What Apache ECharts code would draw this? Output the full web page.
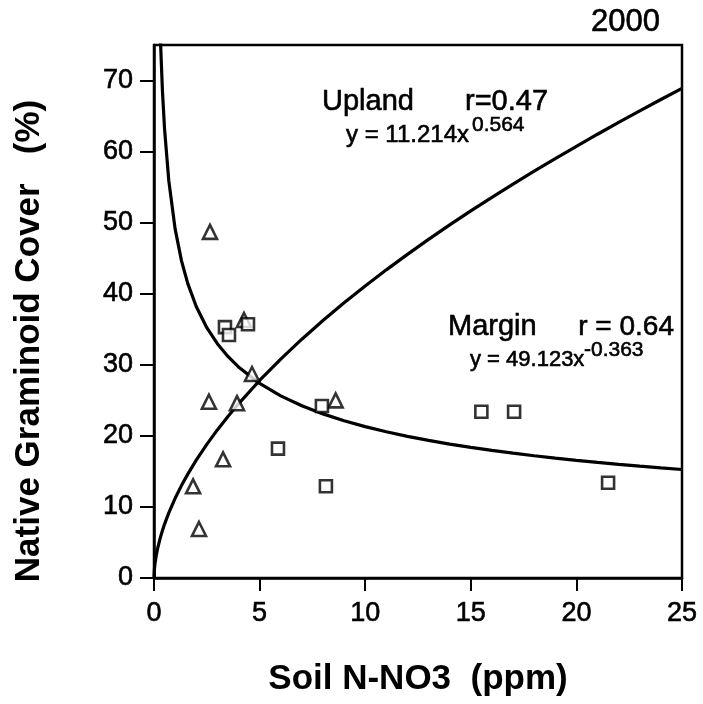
<!DOCTYPE html>
<html>
<head>
<meta charset="utf-8">
<script src="https://cdn.jsdelivr.net/npm/echarts@6/dist/echarts.min.js"></script>
<style>html,body{margin:0;padding:0;background:#fff}#c{width:703px;height:704px}</style>
</head>
<body>
<div id="c"></div>
<script>
// Upland (triangles): soil N-NO3 (ppm) and cover (%)
const uplandX = [2.65, 4.26, 4.64, 2.60, 3.93, 8.60, 3.27, 1.85, 2.13];
const uplandY = [48.7, 36.3, 28.7, 24.8, 24.6, 25.0, 16.7, 12.9, 6.9];
// Margin (squares)
const marginX = [3.36, 3.55, 4.45, 7.95, 5.87, 8.14, 15.5, 17.05, 21.5];
const marginY = [35.3, 34.2, 35.7, 24.2, 18.2, 12.9, 23.4, 23.4, 13.4];
// fitted power curves shown on the chart: y = a * x^b
const uplandFit = { a: 11.214, b: 0.564 };
const marginFit = { a: 49.123, b: -0.363 };
const curveX = [0, 0.02, 0.05, 0.1, 0.15, 0.2, 0.3, 0.4, 0.5, 0.7, 1, 1.3, 1.6, 2, 2.5, 3, 3.5, 4, 5, 6, 7, 8, 9, 10, 11, 12, 13, 14, 15, 16, 17, 18, 19, 20, 21, 22, 23, 24, 25];
const xTicks = [0, 5, 10, 15, 20, 25];
const yTicks = [0, 10, 20, 30, 40, 50, 60, 70];

const FONT = 'Liberation Sans, Arial, Helvetica, sans-serif';
const pts = (xs, ys) => xs.map((x, i) => [x, ys[i]]);
const fit = (f, xmin) => curveX.filter(x => x >= xmin).map(x => [x, f.a * Math.pow(x, f.b)]);
const txt = (x, y, text, size, extra) => ({
  type: 'text', x: x, y: y,
  style: Object.assign({ text: text, font: size + 'px ' + FONT, fill: '#000', stroke: '#000', lineWidth: 0.6, textVerticalAlign: 'middle' }, extra || {})
});

const chart = echarts.init(document.getElementById('c'));
chart.setOption({
  animation: false,
  backgroundColor: '#fff',
  grid: { left: 154, right: 21, top: 45, bottom: 126, show: true, borderColor: '#000', borderWidth: 2.5, backgroundColor: 'transparent' },
  xAxis: {
    type: 'value', min: 0, max: 25, interval: 5,
    axisLine: { lineStyle: { color: '#000', width: 2.5 } },
    axisTick: { show: true, inside: false, length: 13, lineStyle: { color: '#000', width: 2 }, customValues: xTicks },
    axisLabel: { color: '#000', fontSize: 27, fontFamily: FONT, margin: 22, textBorderColor: '#000', textBorderWidth: 0.6, customValues: xTicks },
    splitLine: { show: false }
  },
  yAxis: {
    type: 'value', min: 0, max: 75,
    axisLine: { show: true, lineStyle: { color: '#000', width: 2.5 } },
    axisTick: { show: true, inside: false, length: 14, lineStyle: { color: '#000', width: 2 }, customValues: yTicks },
    axisLabel: { color: '#000', fontSize: 27, fontFamily: FONT, margin: 21, textBorderColor: '#000', textBorderWidth: 0.6, customValues: yTicks },
    splitLine: { show: false }
  },
  series: [
    { type: 'line', data: fit(uplandFit, 0), showSymbol: false, clip: true, lineStyle: { color: '#000', width: 3.2 }, z: 2 },
    { type: 'line', data: fit(marginFit, 0.1), showSymbol: false, clip: true, lineStyle: { color: '#000', width: 3.2 }, z: 2 },
    { type: 'scatter', data: pts(uplandX, uplandY), symbol: 'triangle', symbolSize: 14, itemStyle: { color: '#fff', borderColor: '#000', borderWidth: 2.6 }, z: 3 },
    { type: 'scatter', data: pts(marginX, marginY), symbol: 'rect', symbolSize: 12, itemStyle: { color: '#fff', borderColor: '#000', borderWidth: 2.6 }, z: 3 }
  ],
  graphic: [
    txt(591, 22, '2000', 31),
    txt(322, 102, 'Upland', 29),
    txt(465, 102, 'r=0.47', 29),
    txt(346, 135, 'y = 11.214x', 24),
    txt(472, 125, '0.564', 21),
    txt(448, 327, 'Margin', 29),
    txt(674, 327, 'r = 0.64', 28, { textAlign: 'right' }),
    txt(470, 360, 'y = 49.123x', 22),
    txt(584, 350, '-0.363', 21),
    { type: 'text', x: 418, y: 679, style: { text: 'Soil N-NO3  (ppm)', font: 'bold 35px ' + FONT, fill: '#000', textAlign: 'center', textVerticalAlign: 'middle' } },
    { type: 'text', x: 29, y: 341, rotation: Math.PI / 2, style: { text: 'Native Graminoid Cover   (%)', font: 'bold 35px ' + FONT, fill: '#000', textAlign: 'center', textVerticalAlign: 'middle' } }
  ]
});
</script>
</body>
</html>
